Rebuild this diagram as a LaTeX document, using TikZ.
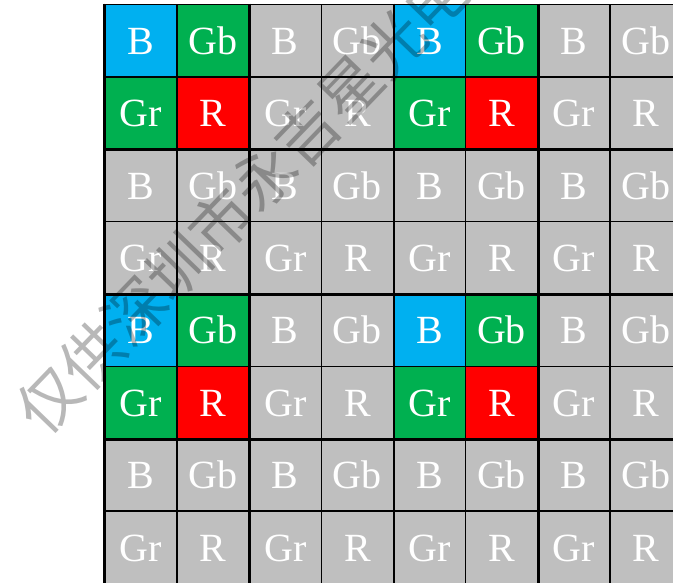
\documentclass[tikz,border=0pt]{standalone}
\usepackage{fontspec}
\setmainfont{Liberation Serif}
\newfontfamily\cjk{Noto Sans CJK SC}
\usepackage{xcolor}
\definecolor{pixblue}{HTML}{00B0F0}
\definecolor{pixgreen}{HTML}{00B050}
\definecolor{pixred}{HTML}{FF0000}
\definecolor{pixgray}{HTML}{BFBFBF}

\begin{document}
\begin{tikzpicture}[x=1pt, y=-1pt,
    pixel/.style={draw=black, line width=1.6pt, minimum width=72.1pt, minimum height=72.5pt,
        inner sep=0pt, text=white, font=\fontsize{40}{40}\selectfont,
        text height=27pt, text depth=0pt},
    blockline/.style={black, line width=2.2pt},
    stamp/.style={text=black, text opacity=0.28, font=\cjk\fontsize{62}{62}\selectfont}]
    \useasboundingbox (0,0) rectangle (673,582);
    \clip (0,0) rectangle (673,582);

    % Bayer cells
    \foreach \r in {1,...,8} {
        \foreach \c in {1,...,8} {
            \pgfmathtruncatemacro\k{2*mod(\r-1,2)+mod(\c-1,2)}
            \pgfmathtruncatemacro\blk{and(mod(\r-1,4)<2, mod(\c-1,4)<2)}
            \ifcase\k \def\lbl{B}\def\clr{pixblue}\or
                \def\lbl{Gb}\def\clr{pixgreen}\or
                \def\lbl{Gr}\def\clr{pixgreen}\or
                \def\lbl{R}\def\clr{pixred}\fi
            \ifnum\blk=0 \def\clr{pixgray}\fi
            \node[pixel, fill=\clr] (cell-\r-\c) at ({105+72.1*(\c-0.5)}, {4.5+72.4*(\r-0.5)}) {\lbl};
        }
    }

    % Heavier lines between 2x2 blocks
    \draw[blockline] (cell-1-1.north west) -- (cell-8-1.south west);
    \foreach \c in {2,4,6} {
        \draw[blockline] (cell-1-\c.north east) -- (cell-8-\c.south east);
    }
    \foreach \r in {2,4,6} {
        \draw[blockline] (cell-\r-1.south west) -- (cell-\r-8.south east);
    }

    % Watermark
    \node[stamp, rotate=46, anchor=west] (mark) at (25,425) {仅供深圳市永吉星光电};
\end{tikzpicture}
\end{document}
